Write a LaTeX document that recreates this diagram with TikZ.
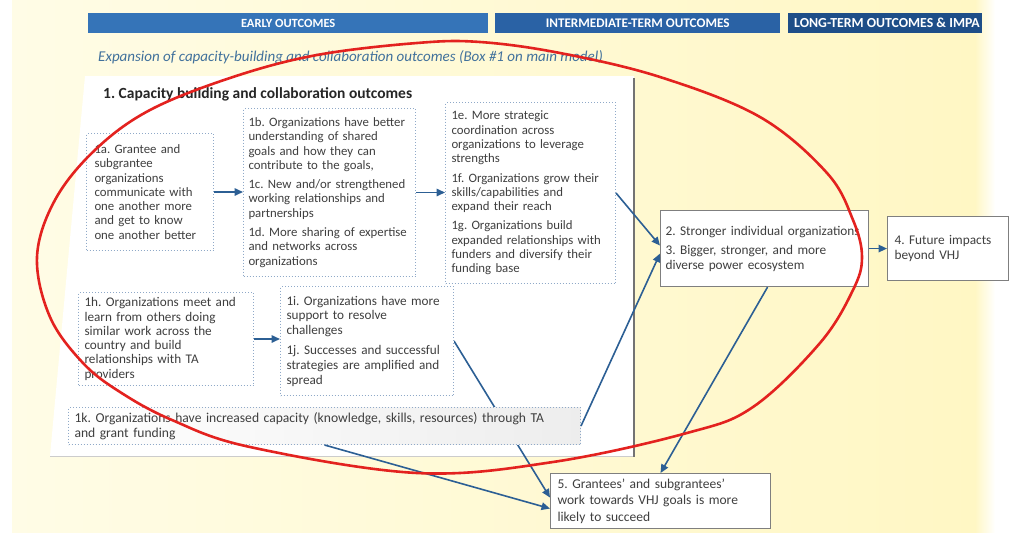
\documentclass[tikz,border=0pt]{standalone}
\usepackage{fontspec}
\setmainfont{Carlito}
\usetikzlibrary{arrows.meta}
\pgfdeclarelayer{back}
\pgfdeclarelayer{mid}
\pgfsetlayers{back,mid,main}
\definecolor{txtc}{HTML}{3F3F3F}
\definecolor{dotc}{HTML}{8FA9C8}
\definecolor{arrc}{HTML}{2C5F94}
\definecolor{hdrA}{HTML}{3574B8}
\definecolor{hdrB}{HTML}{2A62A5}
\definecolor{hdrC}{HTML}{1E4E88}
\definecolor{subc}{HTML}{41719C}
\definecolor{redc}{HTML}{E3221F}
\definecolor{yelL}{HTML}{FFFCE6}
\definecolor{yelR}{HTML}{FFF7C4}
\definecolor{sboxc}{HTML}{7F7F7F}
\frenchspacing
\begin{document}
\begin{tikzpicture}[x=1pt,y=-1pt,
  dbox/.style={draw=dotc, dotted, line width=1pt, fill=white, align=left, text=txtc,
    font=\fontsize{12.8}{14.3}\selectfont, anchor=north west, inner ysep=0pt},
  sbox/.style={draw=sboxc, line width=1.1pt, fill=white, align=left, text=txtc,
    font=\fontsize{13.3}{14.5}\selectfont, anchor=north west, inner ysep=0pt},
  hdr/.style={text=white, minimum height=20pt, inner sep=0pt, anchor=north west},
  arr/.style={draw=arrc, line width=1.6pt, -{Triangle[length=8.5pt,width=7.5pt]}}
]
\useasboundingbox (0,0) rectangle (1021,533);

\begin{pgfonlayer}{back}
  \fill[white] (0,0) rectangle (1021,533);
  \shade[left color=yelL, right color=yelR] (12,0) rectangle (975,533);
  \shade[left color=yelR, right color=white] (975,0) rectangle (995,533);
  \fill[white] (85,76) -- (634,76) -- (634,456) -- (50,456) -- cycle;
  \draw[black!20, line width=1pt] (50,456) -- (634,456);
  \draw[black!55, line width=1.4pt] (634,78) -- (634,457);
\end{pgfonlayer}

% headers
\node[hdr, fill=hdrA, minimum width=400pt, font=\bfseries\fontsize{12.5}{14}\selectfont] (hE) at (88,13) {EARLY OUTCOMES};
\node[hdr, fill=hdrB, minimum width=285pt, font=\bfseries\fontsize{13.2}{14}\selectfont] (hI) at (495,13) {INTERMEDIATE-TERM OUTCOMES};
\fill[hdrC] (788,13) rectangle (982,33);
\begin{scope}
  \clip (788,13) rectangle (982,33);
  \node[text=white, font=\bfseries\fontsize{13.8}{14}\selectfont, inner sep=0pt, anchor=west] (hL) at (794,23) {LONG-TERM OUTCOMES \& IMPA};
\end{scope}

\node[anchor=west, font=\itshape\fontsize{15}{16}\selectfont, text=subc, inner sep=0pt] (sub) at (98,57)
  {Expansion of capacity-building and collaboration outcomes (Box \#1 on main model)};
\node[anchor=west, font=\bfseries\fontsize{15.5}{17}\selectfont, text=black!85, inner sep=0pt] (ttl) at (103,94)
  {1. Capacity building and collaboration outcomes};

% dotted boxes
\node[dbox, text width=111pt, inner xsep=8pt, minimum height=117pt] (b1a) at (86,133)
  {1a. Grantee and\\subgrantee\\organizations\\communicate with\\one another more\\and get to know\\one another better};
\node[dbox, text width=162pt, inner xsep=5pt, minimum height=168pt] (b1b) at (243,108)
  {1b. Organizations have better\\understanding of shared\\goals and how they can\\contribute to the goals,\\[5pt]1c. New and/or strengthened\\working relationships and\\partnerships\\[5pt]1d. More sharing of expertise\\and networks across\\organizations};
\node[dbox, text width=158pt, inner xsep=6pt, minimum height=181pt] (b1e) at (445,102)
  {1e. More strategic\\coordination across\\organizations to leverage\\strengths\\[5pt]1f. Organizations grow their\\skills/capabilities and\\expand their reach\\[5pt]1g. Organizations build\\expanded relationships with\\funders and diversify their\\funding base};
\node[dbox, text width=163pt, inner xsep=6pt, minimum height=93pt, font=\fontsize{13.2}{14.3}\selectfont] (b1h) at (78,292)
  {1h. Organizations meet and\\learn from others doing\\similar work across the\\country and build\\relationships with TA\\providers};
\node[dbox, text width=161pt, inner xsep=6pt, minimum height=109pt, font=\fontsize{13.2}{14.8}\selectfont] (b1i) at (280,286)
  {1i. Organizations have more\\support to resolve\\challenges\\[5pt]1j. Successes and successful\\strategies are amplified and\\spread};
\node[dbox, left color=white, right color=black!7, text width=500pt, inner xsep=6pt, minimum height=37pt,
      font=\fontsize{13.6}{15}\selectfont] (b1k) at (68,407)
  {\mbox{1k. Organizations have increased capacity (knowledge, skills, resources) through TA}\\and grant funding};

% solid boxes
\node[sbox, text width=198pt, inner xsep=5pt, minimum height=76pt] (b23) at (660,210)
  {\mbox{2. Stronger individual organizations}\\[5pt]3. Bigger, stronger, and more\\diverse power ecosystem};
\node[sbox, text width=107pt, inner xsep=7pt, minimum height=64pt] (b4) at (887,216)
  {4. Future impacts\\beyond VHJ};
\node[sbox, text width=206pt, inner xsep=7pt, minimum height=55pt, font=\fontsize{13.5}{16.5}\selectfont] (b5) at (550,473)
  {5. Grantees’ and subgrantees’\\work towards VHJ goals is more\\likely to succeed};

% arrows
\begin{pgfonlayer}{mid}
  \draw[arr] (b1i.east) -- ([yshift=3.5pt]b5.west);
\end{pgfonlayer}
\draw[arr] (b1a.east) -- (b1a.east -| b1b.west);
\draw[arr] (b1b.east) -- (b1b.east -| b1e.west);
\draw[arr] (b1h.east) -- (b1h.east -| b1i.west);
\draw[arr] (b1e.east) -- ([yshift=3pt]b23.west);
\draw[arr] (b1k.east) -- ([yshift=-5pt]b23.west);
\draw[arr] (b23.east) -- (b4.west);
\draw[arr] ([xshift=3pt]b23.south) -- (b5.north);
\draw[arr] (b1k.south) -- ([yshift=-7.5pt]b5.west);

% red ellipse
\draw[redc, line width=2.6pt] plot[smooth cycle, tension=0.6] coordinates {
  (37,257) (55,200) (95,150) (150,110) (233,77) (317,55) (417,43) (480,42) (560,53)
  (660,77) (760,117) (827,173) (853,220) (862,257) (853,290) (820,343) (753,407)
  (687,433) (553,462) (417,473) (250,447) (172,420) (120,392) (83,363) (50,317)};
\end{tikzpicture}
\end{document}
